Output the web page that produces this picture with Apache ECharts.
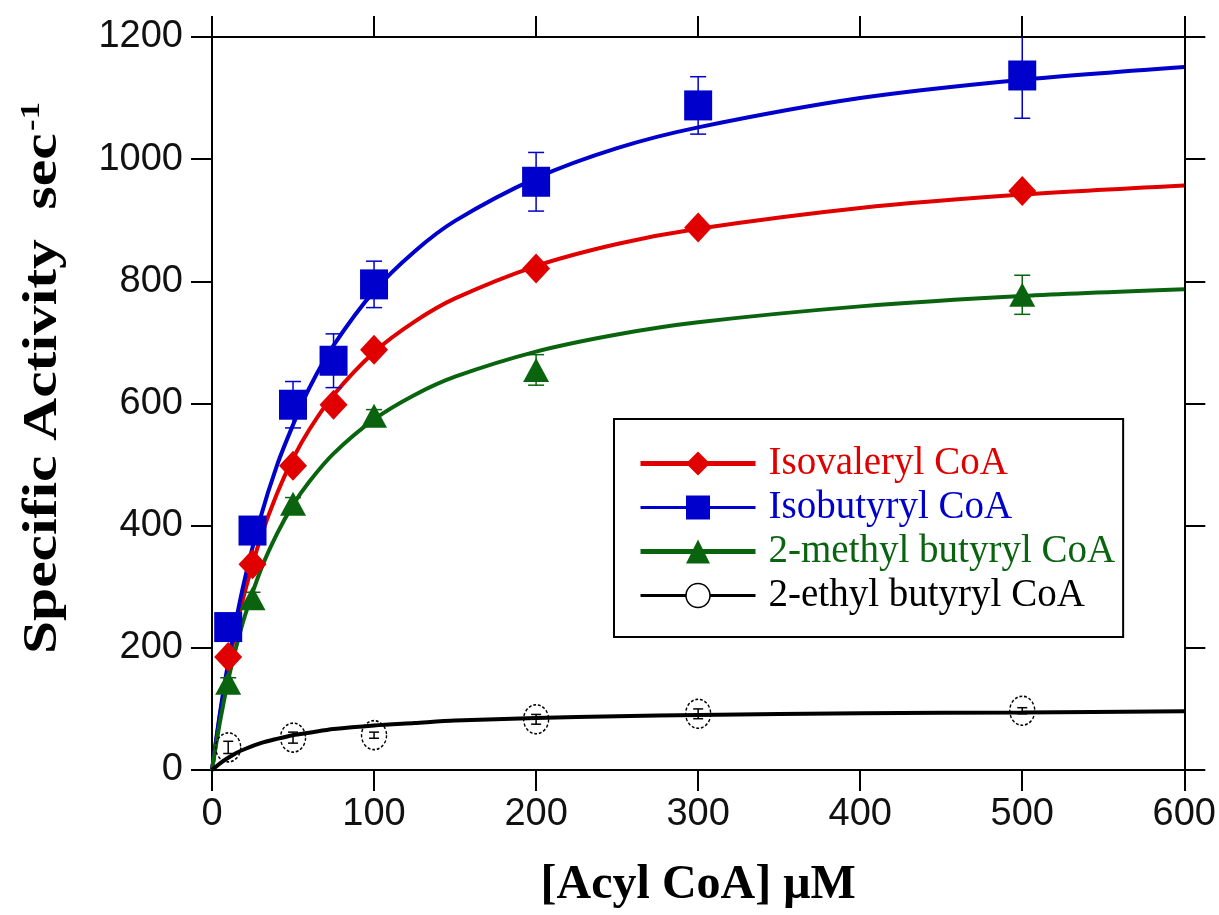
<!DOCTYPE html>
<html>
<head>
<meta charset="utf-8">
<script src="https://cdn.jsdelivr.net/npm/echarts@6/dist/echarts.min.js"></script>
<style>
  html, body { margin: 0; padding: 0; background: #fff; }
  #chart { width: 1219px; height: 915px; }
</style>
</head>
<body>
<div id="chart"></div>
<script>
// measured points
const names = ['Isovaleryl CoA', 'Isobutyryl CoA', '2-methyl butyryl CoA', '2-ethyl butyryl CoA'];
const colors = ['#e00000', '#0000cc', '#0a640f', '#000000'];

const isovalerylX = [10, 25, 50, 75, 100, 200, 300, 500];
const isovalerylY = [185, 337, 498, 598, 688, 821, 888, 948];

const isobutyrylX = [10, 25, 50, 75, 100, 200, 300, 500];
const isobutyrylY = [234, 392, 598, 670, 795, 963, 1088, 1137];
const isobutyrylErr = [12, 15, 38, 44, 38, 48, 47, 70];

const methylX = [10, 25, 50, 100, 200, 500];
const methylY = [143, 281, 436, 580, 655, 778];
const methylErr = [8, 10, 10, 10, 25, 32];

const ethylX = [10, 50, 100, 200, 300, 500];
const ethylY = [37, 53, 57, 83, 92, 97];
const ethylErr = [10, 9, 5, 8, 8, 5];

// fitted curves
const fitX = [0, 5, 10, 15, 20, 30, 40, 50, 60, 75, 100, 125, 150, 200, 250, 300, 400, 500, 600];
const isovalerylFit = [0, 91, 168, 233, 289, 380, 452, 510, 557, 614, 684, 734, 772, 825, 861, 886, 920, 942, 957];
const isobutyrylFit = [0, 95, 176, 247, 310, 414, 498, 565, 625, 695, 784, 849, 899, 969, 1018, 1052, 1100, 1130, 1151];
const methylFit = [0, 80, 147, 202, 250, 327, 386, 434, 472, 518, 574, 614, 644, 685, 713, 733, 759, 776, 787];
const ethylFit = [0, 11, 20, 28, 34, 44, 51, 57, 61, 67, 73, 77, 81, 85, 88, 90, 93, 94, 96];

const xTicks = [0, 100, 200, 300, 400, 500, 600];
const yTicks = [0, 200, 400, 600, 800, 1000, 1200];

const pairs = (xs, ys) => xs.map((x, i) => [x, ys[i]]);
const errs = (xs, ys, es) => xs.map((x, i) => [x, ys[i] - es[i], ys[i] + es[i]]);

const symbols = ['diamond', 'rect', 'triangle', 'circle'];
const symbolSizes = [[28, 30], [28, 30], [26, 24], [25, 29]];

function fitSeries(i, ys) {
  return {
    name: names[i],
    type: 'line',
    data: pairs(fitX, ys),
    smooth: 0.3,
    showSymbol: false,
    symbol: symbols[i],
    lineStyle: {color: colors[i], width: 4},
    itemStyle: {color: colors[i]},
    z: 3
  };
}

function pointSeries(i, xs, ys) {
  return {
    name: names[i],
    type: 'scatter',
    data: pairs(xs, ys),
    symbol: symbols[i],
    symbolSize: symbolSizes[i],
    itemStyle: i === 3
      ? {color: 'rgba(255,255,255,0)', borderColor: '#000', borderWidth: 1.5, borderType: [3, 2], opacity: 1}
      : {color: colors[i], opacity: 1},
    z: 4
  };
}

function errSeries(i, xs, ys, es) {
  return {
    type: 'custom',
    data: errs(xs, ys, es),
    renderItem(params, api) {
      const x = api.value(0);
      const lo = api.coord([x, api.value(1)]);
      const hi = api.coord([x, api.value(2)]);
      const w = i === 3 ? 5 : 8;
      const style = {stroke: colors[i], lineWidth: 1.5};
      return {
        type: 'group',
        children: [
          {type: 'line', shape: {x1: lo[0], y1: lo[1], x2: hi[0], y2: hi[1]}, style},
          {type: 'line', shape: {x1: lo[0] - w, y1: lo[1], x2: lo[0] + w, y2: lo[1]}, style},
          {type: 'line', shape: {x1: hi[0] - w, y1: hi[1], x2: hi[0] + w, y2: hi[1]}, style}
        ]
      };
    },
    clip: true,
    z: 5
  };
}

const axisLine = {show: true, onZero: false, lineStyle: {color: '#000', width: 2}};
const tick = {show: true, inside: false, length: 21, lineStyle: {color: '#000', width: 2}};
const tickFont = {fontFamily: 'Liberation Sans', fontSize: 38, color: '#111', formatter: v => String(v)};

const chart = echarts.init(document.getElementById('chart'));
chart.setOption({
  backgroundColor: '#fff',
  animation: false,
  grid: {left: 212, right: 34, top: 37, bottom: 140},
  legend: {
    orient: 'vertical',
    left: 614,
    top: 419,
    padding: [25, 8, 22, 24],
    itemWidth: 115,
    itemHeight: 30,
    itemGap: 5,
    borderColor: '#000',
    borderWidth: 2,
    backgroundColor: '#fff',
    lineStyle: {width: 4},
    data: names.map((n, i) => ({
      name: n,
      textStyle: {color: colors[i]},
      lineStyle: {width: i === 1 || i === 3 ? 3 : 5},
      itemStyle: i === 3 ? {color: '#fff', borderColor: '#000', borderWidth: 1.5} : {color: colors[i], borderWidth: 0}
    })),
    textStyle: {fontFamily: 'Liberation Serif', fontSize: 39, lineHeight: 39, padding: [0, 0, 0, 8]}
  },
  graphic: [{
    type: 'text',
    x: 44,
    y: 378,
    rotation: Math.PI / 2,
    scaleX: 1.24,
    style: {
      text: '{t|Specific Activity  sec}{s|-1}',
      align: 'center',
      verticalAlign: 'middle',
      rich: {
        t: {fontFamily: 'Liberation Serif', fontWeight: 'bold', fontSize: 48, fill: '#000'},
        s: {fontFamily: 'Liberation Serif', fontWeight: 'bold', fontSize: 28, fill: '#000', verticalAlign: 'top', padding: [0, 0, 24, 2]}
      }
    }
  }],
  xAxis: [
    {
      type: 'value', min: xTicks[0], max: xTicks[xTicks.length - 1], interval: 100,
      axisLine, axisTick: tick, splitLine: {show: false},
      axisLabel: {...tickFont, margin: 26},
      name: '[Acyl CoA] μM', nameLocation: 'middle', nameGap: 92,
      nameTextStyle: {fontFamily: 'Liberation Serif', fontWeight: 'bold', fontSize: 48, color: '#000'}
    },
    {
      type: 'value', position: 'top', min: xTicks[0], max: xTicks[xTicks.length - 1], interval: 100,
      axisLine, axisTick: tick, splitLine: {show: false}, axisLabel: {show: false}
    }
  ],
  yAxis: [
    {
      type: 'value', min: yTicks[0], max: yTicks[yTicks.length - 1], interval: 200,
      axisLine, axisTick: tick, splitLine: {show: false},
      axisLabel: {...tickFont, margin: 29}
    },
    {
      type: 'value', position: 'right', min: yTicks[0], max: yTicks[yTicks.length - 1], interval: 200,
      axisLine, axisTick: tick, splitLine: {show: false}, axisLabel: {show: false}
    }
  ],
  series: [
    fitSeries(0, isovalerylFit),
    fitSeries(1, isobutyrylFit),
    fitSeries(2, methylFit),
    fitSeries(3, ethylFit),
    errSeries(1, isobutyrylX, isobutyrylY, isobutyrylErr),
    errSeries(2, methylX, methylY, methylErr),
    errSeries(3, ethylX, ethylY, ethylErr),
    pointSeries(0, isovalerylX, isovalerylY),
    pointSeries(1, isobutyrylX, isobutyrylY),
    pointSeries(2, methylX, methylY),
    pointSeries(3, ethylX, ethylY)
  ]
});
</script>
</body>
</html>
